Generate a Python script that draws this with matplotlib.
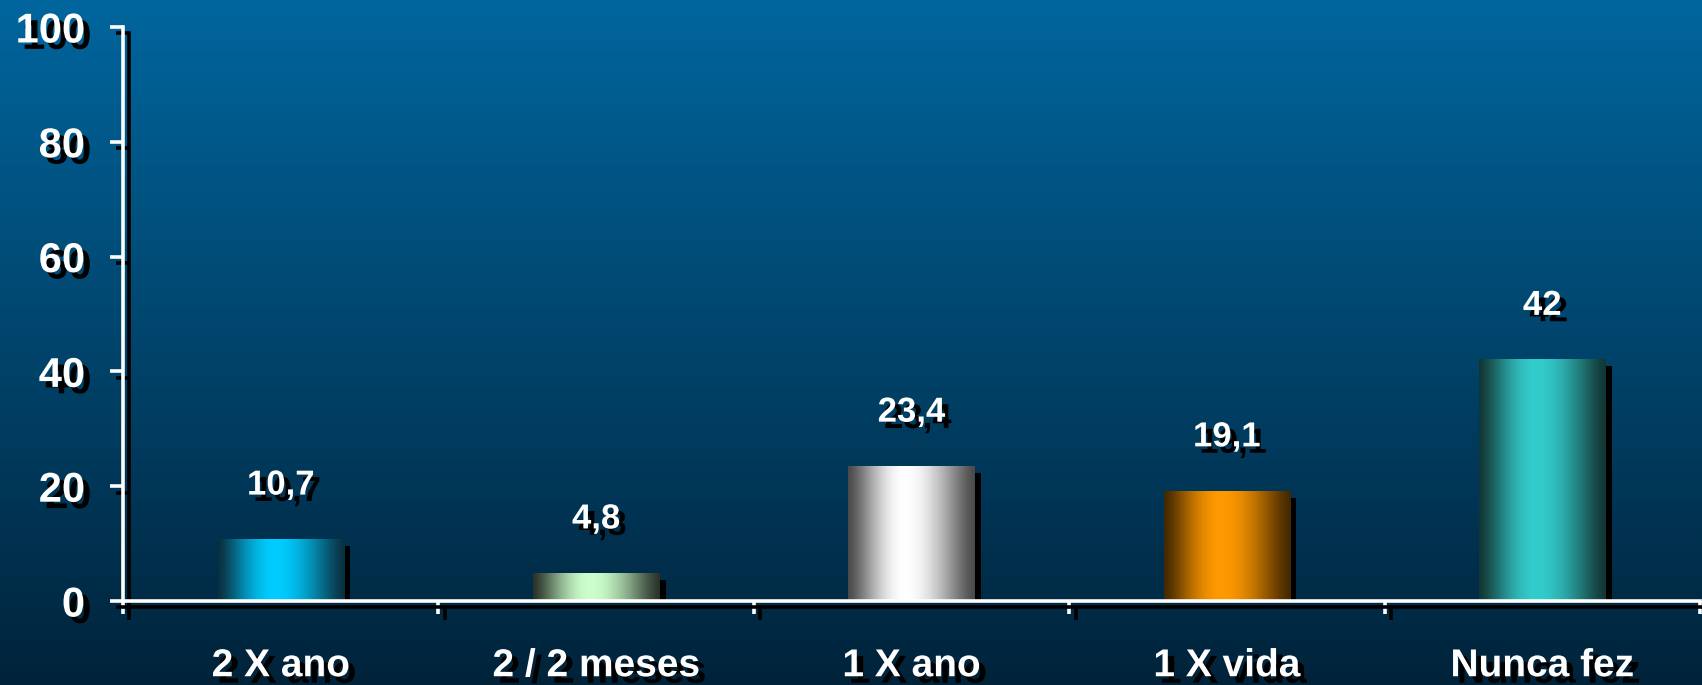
import numpy as np
import matplotlib
matplotlib.use('Agg')
import matplotlib.pyplot as plt
import matplotlib.patheffects as pe
from matplotlib.colors import to_rgb

categories = ['2 X ano', '2 / 2 meses', '1 X ano', '1 X vida', 'Nunca fez']
values = [10.7, 4.8, 23.4, 19.1, 42]
value_labels = ['10,7', '4,8', '23,4', '19,1', '42']
bar_light = ['#00CCFF', '#CCFFCC', '#FFFFFF', '#FF9900', '#33CCCC']
bar_dark = ['#0A3040', '#2A332A', '#4A4A4A', '#442800', '#123634']
yticks = [0, 20, 40, 60, 80, 100]

plt.rcParams['font.family'] = ['Liberation Sans', 'DejaVu Sans']

# shadow offset ~6-7 px down/right
off = (4.6, -4.6)
text_shadow = [pe.SimplePatchShadow(offset=off, shadow_rgbFace='black', alpha=1), pe.Normal()]
line_shadow = [pe.SimpleLineShadow(offset=off, shadow_color='black', alpha=1), pe.Normal()]

fig = plt.figure(figsize=(17.02, 6.85), dpi=100)

# background vertical gradient
bg = fig.add_axes([0, 0, 1, 1], zorder=-1)
g = np.linspace(0, 1, 256)[:, None, None]
top_c = np.array(to_rgb('#00669E'))
bot_c = np.array(to_rgb('#00233A'))
bg.imshow(top_c * (1 - g) + bot_c * g, aspect='auto', extent=(0, 1, 0, 1))
bg.set_axis_off()

ax = fig.add_axes([0.0723, 0.1226, 0.9265, 0.8380])
ax.set_facecolor('none')

x = np.arange(len(categories))
width = 0.4
bars = ax.bar(x, values, width=width, color=bar_dark, edgecolor='none', zorder=2)

t = np.linspace(0, 1, 300)
f = np.where(t < 0.45, t / 0.45, (1 - t) / 0.55)
f = np.sin(f * np.pi / 2) ** 1.3
for i, b in enumerate(bars):
    b.set_path_effects([pe.SimplePatchShadow(offset=off, shadow_rgbFace='black', alpha=1), pe.Normal()])
    lo = np.array(to_rgb(bar_dark[i]))
    hi = np.array(to_rgb(bar_light[i]))
    img = (lo + (hi - lo) * f[:, None])[None, :, :]
    ax.imshow(img, aspect='auto', zorder=3,
              extent=(b.get_x(), b.get_x() + b.get_width(), 0, b.get_height()))
    ax.text(x[i], values[i] + 9.5, value_labels[i], ha='center', va='center',
            fontsize=25, fontweight='bold', color='white',
            path_effects=text_shadow, zorder=5)

ax.set_xlim(-0.5, len(categories) - 0.5)
ax.set_ylim(0, 100)
ax.set_yticks(yticks)

for s in ['top', 'right']:
    ax.spines[s].set_visible(False)
for s in ['left', 'bottom']:
    ax.spines[s].set_color('white')
    ax.spines[s].set_linewidth(2.6)
    ax.spines[s].set_path_effects(line_shadow)
    ax.spines[s].set_zorder(6)

ax.tick_params(axis='y', length=9.4, width=2.6, color='white', pad=18,
               labelsize=30, labelcolor='white')
ax.set_xticks(x)
ax.set_xticklabels(categories)
ax.set_xticks(np.arange(-0.5, len(categories), 1), minor=True)
ax.tick_params(axis='x', which='major', length=0, pad=34, labelsize=28, labelcolor='white')
ax.tick_params(axis='x', which='minor', length=9, width=2.6, color='white')

for lab in ax.get_yticklabels():
    lab.set_fontweight('bold')
    lab.set_path_effects(text_shadow)
for lab in ax.get_xticklabels():
    lab.set_fontweight('bold')
    lab.set_path_effects(text_shadow)
for tk in ax.yaxis.get_major_ticks() + ax.xaxis.get_minor_ticks():
    tk.tick1line.set_path_effects(line_shadow)

fig.savefig('out.png', dpi=100)
